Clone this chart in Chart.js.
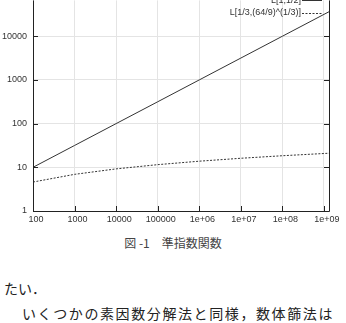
<!DOCTYPE html>
<html>
<head>
<meta charset="utf-8">
<script src="https://cdn.jsdelivr.net/npm/chart.js@4"></script>
<style>
  html, body { margin: 0; padding: 0; background: #fff; }
  body { width: 346px; height: 323px; position: relative; overflow: hidden; }
  #wrap { position: absolute; left: 0; top: 0; width: 346px; }
  .caption { position: absolute; left: 0; width: 346px; top: 235px; text-align: center;
    font-family: "Noto Sans CJK JP", sans-serif; font-size: 12px; color: #444; line-height: 16px; }
  .body { position: absolute; font-family: "Noto Sans CJK JP", serif; font-size: 14px; color: #222;
    white-space: nowrap; line-height: 18px; }
</style>
</head>
<body>
<div id="wrap"></div>
<div class="caption">図 -1　準指数関数</div>
<div class="body" style="left:4px; top:279px;">たい．</div>
<div class="body" style="left:22px; top:304px; letter-spacing:1.6px;">いくつかの素因数分解法と同様，数体篩法は</div>
<script>
// n の値（横軸）
const nValues = [100, 1e3, 1e4, 1e5, 1e6, 1e7, 1e8, 1e9, 1.32e9];
// L[1,1/2]
const sqrtSeries = [10, 31.6, 100, 316, 1000, 3162, 10000, 31623, 36300];
// L[1/3,(64/9)^(1/3)]
const nfsSeries = [4.6, 6.9, 9.2, 11.5, 13.8, 16.1, 18.4, 20.7, 21.0];
const seriesLabels = ['L[1,1/2]', 'L[1/3,(64/9)^(1/3)]'];
const xTickLabels = {2: '100', 3: '1000', 4: '10000', 5: '100000', 6: '1e+06', 7: '1e+07', 8: '1e+08', 9: '1e+09'};
const yTickLabels = {0: '1', 1: '10', 2: '100', 3: '1000', 4: '10000'};

const toPoints = ys => nValues.map((n, i) => ({x: n, y: ys[i]}));
const isMajor = v => Math.abs(Math.log10(v) - Math.round(Math.log10(v))) < 1e-9;

// 枠線・内向きの目盛り・凡例
const framePlugin = {
    id: 'frame',
    afterDraw(chart) {
        const ctx = chart.ctx;
        const a = chart.chartArea;
        const xs = chart.scales.x, ys = chart.scales.y;
        ctx.save();
        ctx.strokeStyle = '#222';
        ctx.lineWidth = 1;
        ctx.beginPath();
        ctx.moveTo(a.left + 0.5, a.top);
        ctx.lineTo(a.left + 0.5, a.bottom + 0.5);
        ctx.lineTo(a.right + 0.5, a.bottom + 0.5);
        ctx.lineTo(a.right + 0.5, a.top);
        ctx.stroke();

        ctx.beginPath();
        xs.ticks.forEach(t => {
            if (t.value > xs.max) return;
            const px = Math.round(xs.getPixelForValue(t.value)) + 0.5;
            const len = isMajor(t.value) ? 5 : 2.5;
            ctx.moveTo(px, a.bottom);
            ctx.lineTo(px, a.bottom - len);
        });
        ys.ticks.forEach(t => {
            if (t.value > ys.max) return;
            const py = Math.round(ys.getPixelForValue(t.value)) + 0.5;
            const len = isMajor(t.value) ? 5 : 2.5;
            ctx.moveTo(a.left, py);
            ctx.lineTo(a.left + len, py);
            ctx.moveTo(a.right, py);
            ctx.lineTo(a.right - len, py);
        });
        ctx.stroke();

        // 凡例（gnuplot 風：文字の右に線見本）
        ctx.font = '9px "Liberation Sans", sans-serif';
        ctx.fillStyle = '#333';
        ctx.textAlign = 'right';
        ctx.textBaseline = 'middle';
        const rows = [a.top + 0, a.top + 12.5];
        chart.data.datasets.forEach((ds, i) => {
            const y = rows[i];
            ctx.fillText(ds.label, 301, y);
            ctx.strokeStyle = ds.borderColor;
            ctx.setLineDash(ds.borderDash || []);
            ctx.beginPath();
            ctx.moveTo(302, Math.round(y) + 0.5);
            ctx.lineTo(322, Math.round(y) + 0.5);
            ctx.stroke();
        });
        ctx.restore();
    }
};

function makeChart(height) {
    const wrap = document.getElementById('wrap');
    wrap.innerHTML = '';
    const canvas = document.createElement('canvas');
    canvas.width = 346;
    canvas.height = height;
    wrap.appendChild(canvas);
    return new Chart(canvas.getContext('2d'), {
        type: 'scatter',
        data: {
            datasets: [{
                label: seriesLabels[0],
                data: toPoints(sqrtSeries),
                showLine: true,
                borderColor: '#333',
                borderWidth: 1,
                pointRadius: 0,
            }, {
                label: seriesLabels[1],
                data: toPoints(nfsSeries),
                showLine: true,
                borderColor: '#333',
                borderWidth: 1,
                borderDash: [2, 1.5],
                pointRadius: 0,
            }]
        },
        options: {
            responsive: false,
            animation: false,
            layout: {padding: {left: 0, right: 17, top: 0, bottom: 0}},
            plugins: {legend: {display: false}, tooltip: {enabled: false}},
            scales: {
                x: {
                    type: 'logarithmic',
                    min: 100,
                    max: 1.32e9,
                    border: {display: false},
                    grid: {color: '#e4e4e4', drawTicks: false},
                    ticks: {
                        autoSkip: false,
                        maxRotation: 0,
                        padding: 3,
                        labelOffset: 3,
                        color: '#333',
                        font: {family: '"Liberation Sans", sans-serif', size: 9},
                        callback: v => isMajor(v) ? (xTickLabels[Math.round(Math.log10(v))] ?? null) : null
                    },
                    afterFit: s => { s.height = 14; }
                },
                y: {
                    type: 'logarithmic',
                    min: 1,
                    max: 66000,
                    border: {display: false},
                    grid: {color: '#e4e4e4', drawTicks: false},
                    ticks: {
                        autoSkip: false,
                        padding: 6,
                        color: '#333',
                        font: {family: '"Liberation Sans", sans-serif', size: 9},
                        callback: v => isMajor(v) ? (yTickLabels[Math.round(Math.log10(v))] ?? null) : null
                    },
                    afterFit: s => { s.width = 33; }
                }
            }
        },
        plugins: [framePlugin]
    });
}

// 上端は元図と同じく切れているので、プロット領域の上端をページ上端に合わせる
let chart = makeChart(225);
const off = Math.round(chart.chartArea.top);
if (off > 0) {
    chart.destroy();
    chart = makeChart(225 + off);
    document.getElementById('wrap').style.top = (-off) + 'px';
}
</script>
</body>
</html>
